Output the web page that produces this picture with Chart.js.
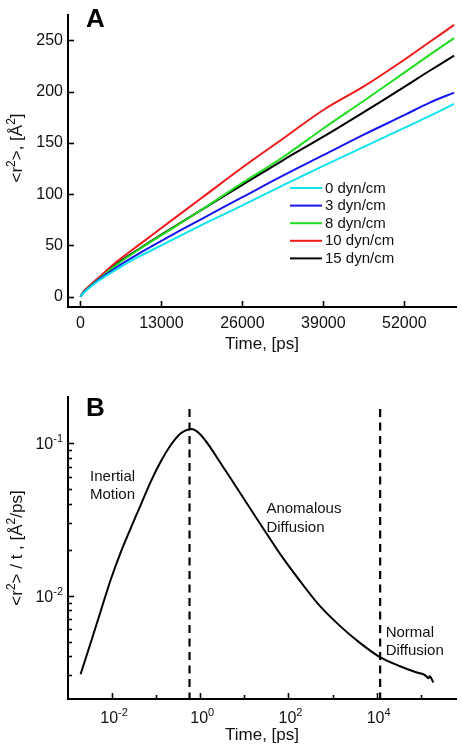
<!DOCTYPE html>
<html>
<head>
<meta charset="utf-8">
<script src="https://cdn.jsdelivr.net/npm/chart.js@4.4.1/dist/chart.umd.min.js"></script>
<style>
  html, body { margin: 0; padding: 0; background: #fff; }
  .panel { position: absolute; left: 0; width: 462px; height: 375px; }
  #panelA { top: 0; }
  #panelB { top: 375px; }
</style>
</head>
<body>
<div class="panel" id="panelA"><canvas id="chartA" width="462" height="375"></canvas></div>
<div class="panel" id="panelB"><canvas id="chartB" width="462" height="375"></canvas></div>
<script>
// ---- panel A : mean square displacement vs time ----
var timeA = [0, 500, 1500, 3000, 6000, 9500, 13000, 19500, 26000, 32500, 39000, 45500, 52000, 56000, 60000];
var msd0  = [0, 3.5, 9, 16, 27.5, 39.5, 50, 70, 89, 108.5, 127.5, 146, 164.5, 176, 188];
var msd3  = [0, 4, 9.5, 17, 29.5, 42.5, 54.5, 76, 97, 118, 138, 158, 177, 189, 199];
var msd8  = [0, 4.5, 10, 17.5, 32, 46.5, 60, 85, 111, 136, 164, 191, 218.5, 235.5, 252];
var msd10 = [0, 5, 11, 19, 35, 51, 67, 96.5, 126, 154, 182, 205, 231, 248, 265];
var msd15 = [0, 4.5, 10.5, 18, 33, 47, 60.5, 85, 109, 133, 156, 180, 204.5, 220, 235];
var seriesNames = ['0 dyn/cm', '3 dyn/cm', '8 dyn/cm', '10 dyn/cm', '15 dyn/cm'];
var xTicksA = [0, 13000, 26000, 39000, 52000];
var yTicksA = [0, 50, 100, 150, 200, 250];

// ---- panel B : <r2>/t vs time, log-log ----
var timeB  = [0.00193, 0.00327, 0.00551, 0.00929, 0.01567, 0.0265, 0.0447, 0.0754, 0.127, 0.215, 0.362, 0.562, 0.742,
              1.03, 1.63, 2.47, 4.63, 13.2, 28.9, 75.4, 215, 514, 1465, 4170, 11900, 33900, 81100, 114600, 137000, 148000, 162000, 193000];
var ratioB = [0.00305, 0.00491, 0.0079, 0.0127, 0.0192, 0.0277, 0.0393, 0.0558, 0.0755, 0.097, 0.1157, 0.123, 0.1216,
              0.1127, 0.0950, 0.0790, 0.0600, 0.0376, 0.0266, 0.01758, 0.01171, 0.00855, 0.00633, 0.0049, 0.00395, 0.00344, 0.00313, 0.00305, 0.00294, 0.00287, 0.00296, 0.00269];
var regionBounds = [0.57, 12000];
var xTicksB = [1e-2, 1, 1e2, 1e4];
var xTickExpB = ['-2', '0', '2', '4'];
var xMinorB = [1e-1, 1e1, 1e3, 1e5];
var yTicksB = [1e-2, 1e-1];
var yTickExpB = ['-2', '-1'];
var regionNames = [['Inertial', 'Motion'], ['Anomalous', 'Diffusion'], ['Normal', 'Diffusion']];

// styling / placement
var colors = ['#12e2ee', '#1717ee', '#1ede1e', '#ee1a1a', '#000000'];
var regionAnchors = [[0.00316, 0.0567], [31.6, 0.0347], [16000, 0.00537]];
var titleA = [['<r', 0], ['2', 1], ['>, [\u00C5', 0], ['2', 1], [']', 0]];
var titleB = [['<r', 0], ['2', 1], ['> / t , [\u00C5', 0], ['2', 1], ['/ps]', 0]];
var FONT = '"Liberation Sans", Arial, sans-serif';

Chart.defaults.font.family = FONT;
Chart.defaults.color = '#111';

function pts(xs, ys) {
  return xs.map(function(x, i) { return {x: x, y: ys[i]}; });
}

function yMinorB() {
  var out = [];
  for (var d = -3; d <= -1; d++) {
    for (var m = 2; m <= 9; m++) {
      var v = m * Math.pow(10, d);
      if (v > 0.0021 && v < 0.2) out.push(v);
    }
  }
  return out;
}

// text made of normal and superscript pieces
function richWidth(ctx, parts, size, supSize) {
  var w = 0;
  parts.forEach(function(p) {
    ctx.font = (p[1] ? supSize : size) + 'px ' + FONT;
    w += ctx.measureText(p[0]).width;
  });
  return w;
}
function drawRich(ctx, parts, x, y, size, supSize, rise) {
  var cx = x;
  parts.forEach(function(p) {
    ctx.font = (p[1] ? supSize : size) + 'px ' + FONT;
    ctx.fillText(p[0], cx, p[1] ? y - rise : y);
    cx += ctx.measureText(p[0]).width;
  });
}
function drawVerticalTitle(ctx, parts, cx, cy) {
  ctx.save();
  ctx.translate(cx, cy);
  ctx.rotate(-Math.PI / 2);
  ctx.fillStyle = '#111';
  ctx.textBaseline = 'alphabetic';
  var w = richWidth(ctx, parts, 17, 12);
  drawRich(ctx, parts, -w / 2, 6, 17, 12, 7);
  ctx.restore();
}

function inwardTicks(chart, xMaj, xMin, yMaj, yMin) {
  var ctx = chart.ctx, a = chart.chartArea;
  var xs = chart.scales.x, ys = chart.scales.y;
  ctx.save();
  ctx.strokeStyle = '#000';
  ctx.lineWidth = 1.6;
  function xt(v, len) {
    var p = Math.round(xs.getPixelForValue(v)) + 0.5;
    ctx.beginPath(); ctx.moveTo(p, a.bottom); ctx.lineTo(p, a.bottom - len); ctx.stroke();
  }
  function yt(v, len) {
    var p = Math.round(ys.getPixelForValue(v)) + 0.5;
    ctx.beginPath(); ctx.moveTo(a.left, p); ctx.lineTo(a.left + len, p); ctx.stroke();
  }
  xMaj.forEach(function(v) { xt(v, 6); });
  xMin.forEach(function(v) { xt(v, 4); });
  yMaj.forEach(function(v) { yt(v, 6); });
  yMin.forEach(function(v) { yt(v, 4); });
  ctx.restore();
}

function baseAxes(xType, yType) {
  return {
    x: {
      type: xType, position: 'bottom',
      grid: {display: false, drawTicks: false},
      border: {display: true, color: '#000', width: 2},
      ticks: {font: {size: 16}, color: '#111', padding: 7, maxRotation: 0, autoSkip: false},
      title: {display: true, text: 'Time, [ps]', font: {size: 17}, color: '#111'}
    },
    y: {
      type: yType, position: 'left',
      grid: {display: false, drawTicks: false},
      border: {display: true, color: '#000', width: 2},
      ticks: {font: {size: 16}, color: '#111', padding: 5, autoSkip: false},
      title: {display: false}
    }
  };
}

// ---------- chart A ----------
var axesA = baseAxes('linear', 'linear');
axesA.x.min = -2000; axesA.x.max = 60300;
axesA.x.afterBuildTicks = function(s) { s.ticks = xTicksA.map(function(v) { return {value: v}; }); };
axesA.x.afterFit = function(s) { s.height = 68; };
axesA.x.ticks.callback = function(v) { return String(v); };
axesA.x.title.padding = {top: 0, bottom: 20};
axesA.y.min = -10; axesA.y.max = 275;
axesA.y.afterBuildTicks = function(s) { s.ticks = yTicksA.map(function(v) { return {value: v}; }); };
axesA.y.afterFit = function(s) { s.width = 68; };
axesA.y.ticks.callback = function(v) { return String(v); };

new Chart(document.getElementById('chartA'), {
  type: 'line',
  data: {
    datasets: [msd0, msd3, msd8, msd10, msd15].map(function(d, i) {
      return {label: seriesNames[i], data: pts(timeA, d), borderColor: colors[i], borderWidth: 2,
              pointRadius: 0, fill: false, tension: 0.35};
    })
  },
  options: {
    responsive: false, animation: false,
    layout: {padding: {left: 0, right: 6, top: 6, bottom: 0}},
    plugins: {legend: {display: false}, tooltip: {enabled: false}},
    scales: axesA
  },
  plugins: [{
    id: 'decorA',
    afterDraw: function(chart) {
      inwardTicks(chart, xTicksA, [], yTicksA, []);
      var ctx = chart.ctx;
      drawVerticalTitle(ctx, titleA, 16, 148);
      ctx.save();
      ctx.fillStyle = '#000';
      ctx.font = 'bold 26px ' + FONT;
      ctx.textBaseline = 'alphabetic';
      ctx.fillText('A', 86, 27);
      // legend
      ctx.font = '15px ' + FONT;
      ctx.textBaseline = 'middle';
      chart.data.datasets.forEach(function(ds, i) {
        var y = 188 + i * 17.6;
        ctx.strokeStyle = ds.borderColor;
        ctx.lineWidth = 2;
        ctx.beginPath(); ctx.moveTo(290, y); ctx.lineTo(322, y); ctx.stroke();
        ctx.fillStyle = '#111';
        ctx.fillText(ds.label, 325, y + 0.5);
      });
      ctx.restore();
    }
  }]
});

// ---------- chart B ----------
var axesB = baseAxes('logarithmic', 'logarithmic');
axesB.x.min = 0.001; axesB.x.max = 6.3e5;
axesB.x.afterBuildTicks = function(s) { s.ticks = xTicksB.map(function(v) { return {value: v}; }); };
axesB.x.afterFit = function(s) { s.height = 51; };
axesB.x.ticks.display = false;
axesB.x.title.padding = {top: 0, bottom: 4};
axesB.y.min = 0.0021; axesB.y.max = 0.2;
axesB.y.afterBuildTicks = function(s) { s.ticks = yTicksB.map(function(v) { return {value: v}; }); };
axesB.y.afterFit = function(s) { s.width = 68; };
axesB.y.ticks.display = false;

var boundSets = regionBounds.map(function(b) {
  return {data: [{x: b, y: 0.167}, {x: b, y: 0.0021}], borderColor: '#000', borderWidth: 2.2,
          borderDash: [8, 5.5], pointRadius: 0, fill: false};
});

new Chart(document.getElementById('chartB'), {
  type: 'line',
  data: {
    datasets: [{data: pts(timeB, ratioB), borderColor: '#000', borderWidth: 2, pointRadius: 0,
                fill: false, tension: 0.3}].concat(boundSets)
  },
  options: {
    responsive: false, animation: false,
    layout: {padding: {left: 0, right: 6, top: 22, bottom: 0}},
    plugins: {legend: {display: false}, tooltip: {enabled: false}},
    scales: axesB
  },
  plugins: [{
    id: 'decorB',
    afterDraw: function(chart) {
      inwardTicks(chart, xTicksB, xMinorB, yTicksB, yMinorB());
      var ctx = chart.ctx, xs = chart.scales.x, ys = chart.scales.y, a = chart.chartArea;
      drawVerticalTitle(ctx, titleB, 16, (a.top + a.bottom) / 2);
      ctx.save();
      ctx.fillStyle = '#111';
      ctx.textBaseline = 'alphabetic';
      // log tick labels 10^n
      xTicksB.forEach(function(v, i) {
        var parts = [['10', 0], [xTickExpB[i], 1]];
        var w = richWidth(ctx, parts, 16, 11);
        drawRich(ctx, parts, xs.getPixelForValue(v) - w / 2 + 2, a.bottom + 24, 16, 11, 7);
      });
      yTicksB.forEach(function(v, i) {
        var parts = [['10', 0], [yTickExpB[i], 1]];
        var w = richWidth(ctx, parts, 16, 11);
        drawRich(ctx, parts, a.left - 5 - w, ys.getPixelForValue(v) + 6, 16, 11, 7);
      });
      ctx.fillStyle = '#000';
      ctx.font = 'bold 26px ' + FONT;
      ctx.fillText('B', 86, 41);
      ctx.font = '15px ' + FONT;
      ctx.fillStyle = '#111';
      regionNames.forEach(function(lines, i) {
        var px = xs.getPixelForValue(regionAnchors[i][0]);
        var py = ys.getPixelForValue(regionAnchors[i][1]);
        lines.forEach(function(t, k) { ctx.fillText(t, px, py + k * 18.7); });
      });
      ctx.restore();
    }
  }]
});
</script>
</body>
</html>
